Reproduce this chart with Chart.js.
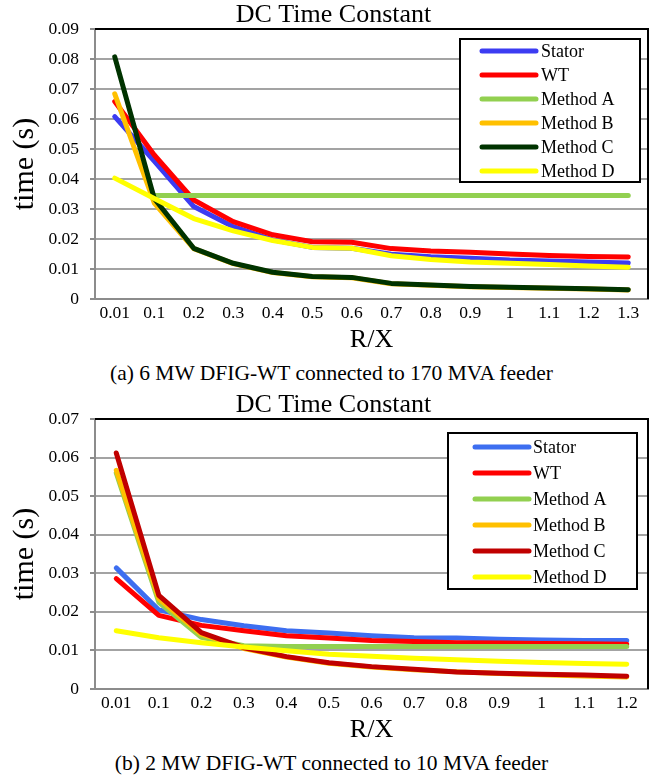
<!DOCTYPE html>
<html><head><meta charset="utf-8">
<script src="https://cdn.jsdelivr.net/npm/chart.js@4.4.1/dist/chart.umd.min.js"></script>
<style>
html,body{margin:0;padding:0;background:#fff;}
body{width:667px;height:779px;position:relative;overflow:hidden;font-family:"Liberation Serif","Times New Roman",serif;}
.wrap{position:absolute;left:0;width:667px;height:352px;}
.cap{position:absolute;left:-2px;width:667px;text-align:center;font-size:21.5px;line-height:24px;color:#000;}
</style></head><body>
<div class="wrap" style="top:0"><canvas id="c1" width="667" height="352"></canvas></div>
<div class="cap" style="top:361px">(a) 6 MW DFIG-WT connected to 170 MVA feeder</div>
<div class="wrap" style="top:390px"><canvas id="c2" width="667" height="352"></canvas></div>
<div class="cap" style="top:751px">(b) 2 MW DFIG-WT connected to 10 MVA feeder</div>
<script>
// ---- data ----
const chartTitle = 'DC Time Constant';
const xTitle = 'R/X';
const yTitle = 'time (s)';
const seriesNames = ['Stator', 'WT', 'Method A', 'Method B', 'Method C', 'Method D'];

const categories1 = ['0.01','0.1','0.2','0.3','0.4','0.5','0.6','0.7','0.8','0.9','1','1.1','1.2','1.3'];
const yTicks1 = ['0','0.01','0.02','0.03','0.04','0.05','0.06','0.07','0.08','0.09'];
const stator1  = [0.0608, 0.0460, 0.0308, 0.0241, 0.0197, 0.0172, 0.0169, 0.0149, 0.0141, 0.0136, 0.0130, 0.0127, 0.0123, 0.0120];
const wt1      = [0.0658, 0.0480, 0.0330, 0.0258, 0.0214, 0.0191, 0.0189, 0.0168, 0.0160, 0.0156, 0.0150, 0.0145, 0.0142, 0.0140];
const methodA1 = [null,   0.0345, 0.0345, 0.0345, 0.0345, 0.0345, 0.0345, 0.0345, 0.0345, 0.0345, 0.0345, 0.0345, 0.0345, 0.0345];
const methodB1 = [0.0684, 0.0320, 0.0168, 0.0118, 0.0088, 0.0074, 0.0071, 0.0051, 0.0046, 0.0041, 0.0038, 0.0036, 0.0033, 0.0030];
const methodC1 = [0.0807, 0.0335, 0.0169, 0.0119, 0.0089, 0.0075, 0.0072, 0.0052, 0.0047, 0.0042, 0.0039, 0.0037, 0.0034, 0.0031];
const methodD1 = [0.0403, 0.0335, 0.0268, 0.0227, 0.0195, 0.0172, 0.0169, 0.0144, 0.0132, 0.0123, 0.0119, 0.0115, 0.0110, 0.0106];

const categories2 = ['0.01','0.1','0.2','0.3','0.4','0.5','0.6','0.7','0.8','0.9','1','1.1','1.2'];
const yTicks2 = ['0','0.01','0.02','0.03','0.04','0.05','0.06','0.07'];
const stator2  = [0.0314, 0.0205, 0.0180, 0.0164, 0.0151, 0.0145, 0.0138, 0.0133, 0.0132, 0.0129, 0.0127, 0.0126, 0.0126];
const wt2      = [0.0286, 0.0191, 0.0165, 0.0151, 0.0138, 0.0132, 0.0126, 0.0123, 0.0120, 0.0119, 0.0118, 0.0117, 0.0116];
const methodA2 = [0.0560, 0.0225, 0.0134, 0.0112, 0.0110, 0.0110, 0.0110, 0.0110, 0.0110, 0.0110, 0.0110, 0.0110, 0.0110];
const methodB2 = [0.0567, 0.0234, 0.0142, 0.0105, 0.0083, 0.0067, 0.0057, 0.0050, 0.0045, 0.0040, 0.0037, 0.0034, 0.0031];
const methodC2 = [0.0612, 0.0243, 0.0146, 0.0107, 0.0084, 0.0068, 0.0058, 0.0051, 0.0044, 0.0041, 0.0038, 0.0036, 0.0033];
const methodD2 = [0.0151, 0.0133, 0.0120, 0.0109, 0.0099, 0.0090, 0.0085, 0.0080, 0.0076, 0.0072, 0.0069, 0.0066, 0.0064];

// ---- styles ----
const colors1 = ['#3c3cf2', '#ff0000', '#92d050', '#ffc000', '#003300', '#ffff00'];
const colors2 = ['#3d6ef0', '#ff0000', '#92d050', '#ffc000', '#c00000', '#ffff00'];
const FONT = '"Liberation Serif", "Times New Roman", serif';
const GRID = '#a3a3a3';
const AXIS = '#8c8c8c';

const boxLegend = {
  id: 'boxLegend',
  afterDraw(chart, args, o) {
    const ctx = chart.ctx;
    ctx.save();
    ctx.fillStyle = '#fff';
    ctx.fillRect(o.x, o.y, o.w, o.h);
    ctx.lineWidth = 2;
    ctx.strokeStyle = '#000';
    ctx.strokeRect(o.x, o.y, o.w, o.h);
    chart.data.datasets.forEach((ds, i) => {
      const y = o.y + o.first + i * o.step;
      ctx.beginPath();
      ctx.moveTo(o.lx1, y);
      ctx.lineTo(o.lx2, y);
      ctx.strokeStyle = ds.borderColor;
      ctx.lineWidth = 5;
      ctx.lineCap = 'round';
      ctx.stroke();
      ctx.fillStyle = '#000';
      ctx.font = '18px ' + FONT;
      ctx.textBaseline = 'middle';
      ctx.textAlign = 'left';
      ctx.fillText(ds.label, o.tx, y + 1);
    });
    ctx.restore();
  }
};

const frame = {
  id: 'frame',
  afterDatasetsDraw(chart) {
    const {ctx, chartArea: a} = chart;
    ctx.save();
    ctx.strokeStyle = '#000';
    ctx.lineWidth = 2;
    ctx.beginPath();
    ctx.moveTo(a.left, a.top);
    ctx.lineTo(a.right, a.top);
    ctx.lineTo(a.right, a.bottom);
    ctx.stroke();
    ctx.restore();
  }
};

function makeChart(id, categories, series, colors, yTicks, yMax, legendOpts) {
  const datasets = series.map((d, i) => ({
    label: seriesNames[i],
    data: d,
    borderColor: colors[i],
    backgroundColor: colors[i],
    borderWidth: 5,
    borderCapStyle: 'round',
    borderJoinStyle: 'round',
    pointRadius: 0,
    pointHoverRadius: 0,
    tension: 0,
    fill: false,
    spanGaps: false,
    order: series.length - 1 - i
  }));
  return new Chart(document.getElementById(id), {
    type: 'line',
    data: { labels: categories, datasets },
    options: {
      responsive: false,
      animation: false,
      devicePixelRatio: 1,
      layout: { padding: 0 },
      plugins: {
        legend: { display: false },
        tooltip: { enabled: false },
        title: {
          display: true, text: chartTitle, color: '#000',
          font: { family: FONT, size: 26, weight: 'normal', lineHeight: 1 },
          padding: { top: 2, bottom: 1 }
        },
        boxLegend: legendOpts
      },
      scales: {
        x: {
          type: 'category',
          offset: true,
          grid: { display: false, drawTicks: false },
          border: { display: true, color: AXIS, width: 2 },
          ticks: { color: '#000', font: { family: FONT, size: 17.5 }, padding: 4, maxRotation: 0, autoSkip: false },
          title: { display: true, text: xTitle, color: '#000', font: { family: FONT, size: 26, lineHeight: 1 }, padding: { top: 0, bottom: -1 } },
          afterFit: s => { s.height = 53; }
        },
        y: {
          type: 'linear',
          position: 'left',
          min: 0, max: yMax,
          grid: { color: GRID, lineWidth: 2, tickLength: 5, tickColor: AXIS, drawTicks: true },
          border: { display: true, color: AXIS, width: 2 },
          ticks: {
            stepSize: 0.01, color: '#000', padding: 11,
            font: { family: FONT, size: 17.5 },
            callback: (v, i) => yTicks[i]
          },
          title: { display: true, text: yTitle, color: '#000', font: { family: FONT, size: 30, lineHeight: 1 }, padding: { top: 10, bottom: 0 } },
          afterFit: s => { s.width = 95; }
        },
        yR: {
          type: 'linear',
          position: 'right',
          display: true,
          grid: { display: false, drawTicks: false },
          border: { display: false },
          ticks: { display: false },
          afterFit: s => { s.width = 19; }
        }
      }
    },
    plugins: [frame, boxLegend]
  });
}

makeChart('c1', categories1,
  [stator1, wt1, methodA1, methodB1, methodC1, methodD1],
  colors1, yTicks1, 0.09,
  { x: 460, y: 39, w: 180, h: 143, first: 12, step: 24, lx1: 482, lx2: 536, tx: 541 });

makeChart('c2', categories2,
  [stator2, wt2, methodA2, methodB2, methodC2, methodD2],
  colors2, yTicks2, 0.07,
  { x: 448, y: 43, w: 189, h: 156, first: 14, step: 26, lx1: 475, lx2: 529, tx: 533 });
</script>
</body></html>
